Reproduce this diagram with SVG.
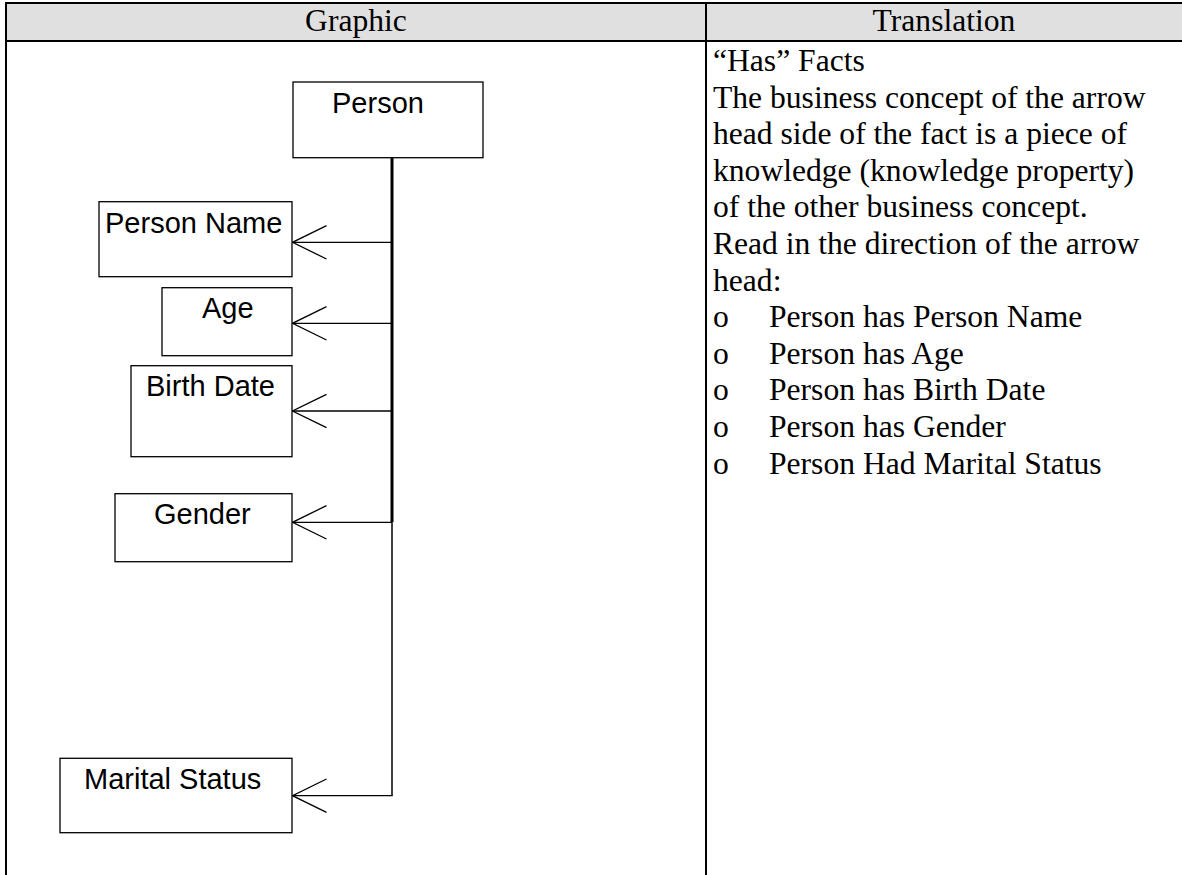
<svg xmlns="http://www.w3.org/2000/svg" width="1182" height="875" viewBox="0 0 1182 875">
<style>
.grid{stroke:#000;stroke-width:2;fill:none}
.box{fill:#fff;stroke:#000;stroke-width:1.3}
.lbl{font-family:"Liberation Sans",Arial,sans-serif;font-size:29px;fill:#000}
.ser{font-family:"Liberation Serif","Times New Roman",serif;font-size:31.6px;fill:#000}
.edge{stroke:#000;stroke-width:1.3;fill:none}
</style>
<defs>
<marker id="open" viewBox="0 0 36 36" refX="35" refY="18" markerWidth="36" markerHeight="36" markerUnits="userSpaceOnUse" orient="auto">
<path d="M1,1.3 L35,18 L1,34.7" fill="none" stroke="#000" stroke-width="1.3"/>
</marker>
</defs>
<rect width="1182" height="875" fill="#fff"/>
<g id="table">
<rect x="6" y="3" width="1176" height="38" fill="#e0e0e0"/>
<line class="grid" x1="6" y1="3" x2="1182" y2="3"/>
<line class="grid" x1="6" y1="41" x2="1182" y2="41"/>
<line class="grid" x1="6" y1="2" x2="6" y2="875"/>
<line class="grid" x1="706" y1="3" x2="706" y2="875"/>
<text class="ser" x="356" y="31" text-anchor="middle">Graphic</text>
<text class="ser" x="944" y="31" text-anchor="middle">Translation</text>
</g>
<g id="translation" class="ser">
<text x="713" y="71">“Has” Facts</text>
<text x="713" y="107.6">The business concept of the arrow</text>
<text x="713" y="144.2">head side of the fact is a piece of</text>
<text x="713" y="180.8">knowledge (knowledge property)</text>
<text x="713" y="217.4">of the other business concept.</text>
<text x="713" y="254">Read in the direction of the arrow</text>
<text x="713" y="290.6">head:</text>
<text x="713" y="327.2">o</text><text x="769" y="327.2">Person has Person Name</text>
<text x="713" y="363.8">o</text><text x="769" y="363.8">Person has Age</text>
<text x="713" y="400.4">o</text><text x="769" y="400.4">Person has Birth Date</text>
<text x="713" y="437">o</text><text x="769" y="437">Person has Gender</text>
<text x="713" y="473.6">o</text><text x="769" y="473.6">Person Had Marital Status</text>
</g>
<g id="connectors">
<line x1="392" y1="157.7" x2="392" y2="522.3" stroke="#000" stroke-width="3"/>
<line x1="392" y1="522.3" x2="392" y2="795.7" stroke="#000" stroke-width="1.5"/>
<line class="edge" x1="392" y1="242.3" x2="292.5" y2="242.3" marker-end="url(#open)"/>
<line class="edge" x1="392" y1="323.3" x2="292.5" y2="323.3" marker-end="url(#open)"/>
<line class="edge" x1="392" y1="411" x2="292.5" y2="411" marker-end="url(#open)"/>
<line class="edge" x1="392" y1="522.3" x2="292.5" y2="522.3" marker-end="url(#open)"/>
<line class="edge" x1="392.7" y1="795.7" x2="292.5" y2="795.7" marker-end="url(#open)"/>
</g>
<g id="person">
<rect class="box" x="293" y="82" width="190" height="75.7"/>
<text class="lbl" x="332" y="112.7">Person</text>
</g>
<g id="person-name">
<rect class="box" x="99" y="201.7" width="193" height="75"/>
<text class="lbl" x="105" y="233">Person Name</text>
</g>
<g id="age">
<rect class="box" x="162" y="287.7" width="130" height="68"/>
<text class="lbl" x="202" y="318">Age</text>
</g>
<g id="birth-date">
<rect class="box" x="131" y="365.7" width="161" height="91"/>
<text class="lbl" x="146" y="396">Birth Date</text>
</g>
<g id="gender">
<rect class="box" x="115" y="493.7" width="177" height="68"/>
<text class="lbl" x="154" y="524.3">Gender</text>
</g>
<g id="marital-status">
<rect class="box" x="60" y="758.3" width="232" height="74.4"/>
<text class="lbl" x="84" y="789">Marital Status</text>
</g>
</svg>
